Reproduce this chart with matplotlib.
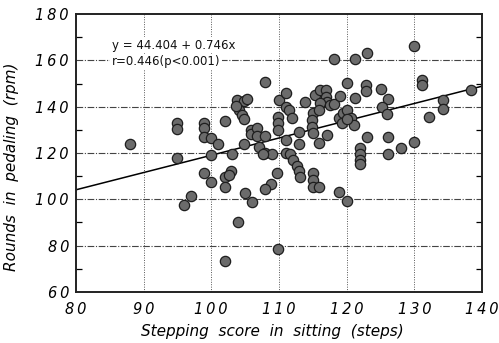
import matplotlib
matplotlib.use("Agg")
import matplotlib.pyplot as plt
from matplotlib.ticker import MultipleLocator

# stepping score in sitting (steps)
steps = [
    88, 95, 95, 95, 96, 97,
    99, 99, 99, 100, 101, 100, 99, 100,
    102, 103, 102, 102, 102.9, 102.6, 103.9, 102, 105, 106, 104.8,
    103.8, 104.8, 105.3, 104.1, 104.6, 104.8, 103.6,
    105.9, 105.9, 106.8, 106.8, 107.9, 107.1, 107.9,
    108, 109, 107.6, 108.8, 108, 109.8, 109.7,
    110, 111, 109.8, 109.8, 109.8, 111, 111.5, 112, 111,
    111, 111.7, 112.1, 112.6, 112.9, 113.1, 112.9, 112.9, 113.9,
    115.1, 114.9, 114.9, 115.1, 115.9,
    115.4, 116, 116.9, 116.9, 117.1, 116.1, 115.9, 117.6, 118.1,
    117.1, 115, 115, 115.1, 115.9,
    118.1, 121.2, 123, 130,
    120.1, 122.9, 122.9, 125.1, 119, 121.2,
    118.8, 119.5, 120.1, 120.6, 121.1, 119.3, 120,
    126.1, 125.2, 126, 131.1, 131.1, 138.3, 134.2, 134.2, 132.1,
    123, 126.1, 128, 130, 126.1,
    122, 122, 122, 122, 118.8, 120.1,
]

# rounds in pedaling (rpm)
rpm = [
    124, 133, 130.5, 118, 97.5, 101.5,
    133, 131, 127, 126.5, 124, 119, 111.5, 107.5,
    134, 119.5, 109.5, 105.5, 112, 110.5, 90, 73.5, 102.5, 98.7, 124,
    143, 142.5, 143.5, 138.5, 136.5, 134.5, 140.5,
    130, 128, 130.7, 127.3, 127.5, 122.7, 150.5,
    119.9, 119.4, 119.6, 106.4, 104.3, 78.5, 111.5,
    142.9, 145.8, 135.7, 132.8, 129.9, 140, 138.6, 135, 125.6,
    119.9, 119.6, 117, 114.5, 112, 109.8, 129.2, 123.9, 142.1,
    137.1, 134.2, 131.3, 128.5, 124.2,
    145, 147.2, 147.2, 144.3, 142.1, 141.4, 138.6, 140.7, 141.1,
    127.8, 111.2, 108.3, 105.4, 105.4,
    160.6, 160.6, 163.3, 166.2,
    150.1, 149.3, 146.9, 147.5, 144.6, 143.9,
    135, 137.1, 138.6, 135, 132.1, 132.8, 134.5,
    143.2, 140, 136.7, 151.5, 149.3, 147.2, 142.9, 138.9, 135.7,
    127, 127, 122, 124.9, 119.6,
    122, 119.6, 117, 115.2, 103.3, 99.3,
]

x_ticks = [80, 90, 100, 110, 120, 130, 140]
y_ticks = [60, 80, 100, 120, 140, 160, 180]

intercept = 44.404
slope = 0.746
line_x = [80, 140]


def spaced(v):
    # old typewriter-ish letter spacing on the tick numbers
    return "\u2009".join(str(v))


fig = plt.figure(figsize=(4.99, 3.43), dpi=100)
ax = fig.add_axes([0.152, 0.149, 0.814, 0.81])

ax.set_xlim(80, 140)
ax.set_ylim(60, 180)
ax.set_xticks(x_ticks, [spaced(v) for v in x_ticks], fontsize=10.5, style="italic")
ax.set_yticks(y_ticks, [spaced(v) for v in y_ticks], fontsize=10.5, style="italic")
ax.yaxis.set_minor_locator(MultipleLocator(10))

# grid: dash-dot horizontals, dotted verticals
for v in x_ticks[1:-1]:
    ax.axvline(v, color="#555555", lw=0.7, ls=(0, (1, 1.5)), zorder=1)
for h in y_ticks[1:-1]:
    ax.axhline(h, color="#444444", lw=0.8, ls=(0, (6, 1.5, 1, 1.5)), zorder=1)

ax.plot(line_x, [intercept + slope * x for x in line_x], color="black", lw=1.1, zorder=2)
ax.scatter(steps, rpm, s=55, facecolor="#6b6b6b", edgecolor="#1e1e1e", linewidth=0.9, zorder=3)

ax.text(85.3, 166.6, "y = 44.404 + 0.746x", fontsize=8.5, color="#111111", va="center",
        bbox=dict(facecolor="white", edgecolor="none", pad=1), zorder=4)
ax.text(85.3, 159.4, "r=0.446(p<0.001)", fontsize=8.5, color="#111111", va="center",
        bbox=dict(facecolor="white", edgecolor="none", pad=1), zorder=4)

for s in ax.spines.values():
    s.set_linewidth(1.4)
    s.set_color("#222222")

ax.tick_params(which="major", length=0, pad=5)
ax.tick_params(which="minor", direction="in", length=4, width=0.9, left=True, right=True)
ax.tick_params(axis="x", pad=7)

ax.set_xlabel("Stepping  score  in  sitting  (steps)", fontsize=11, style="italic")
ax.set_ylabel("Rounds  in  pedaling  (rpm)", fontsize=11, style="italic")
ax.xaxis.set_label_coords(0.485, -0.115)
ax.yaxis.set_label_coords(-0.14, 0.45)

fig.savefig("out.png", dpi=100)
